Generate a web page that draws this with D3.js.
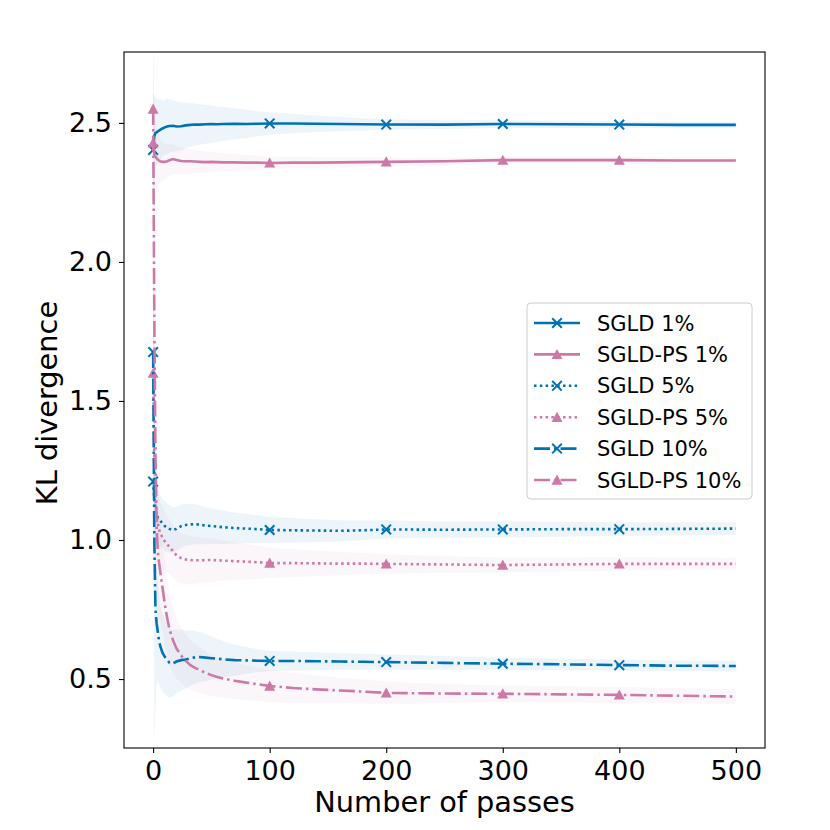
<!DOCTYPE html>
<html>
<head>
<meta charset="utf-8">
<script src="https://cdn.jsdelivr.net/npm/d3@7"></script>
<style>
  body { margin: 0; background: #fff; }
  svg { font-family: "DejaVu Sans", sans-serif; }
</style>
</head>
<body>
<svg width="830" height="830"></svg>
<script>
// number of passes at which each series was sampled
const passes = [0, 1, 2, 3, 4, 5, 6, 8, 10, 12, 14, 17, 20, 24, 28, 32, 36, 40, 45, 50, 55, 60, 70, 80, 90, 100,
  120, 140, 160, 180, 200, 250, 300, 350, 400, 450, 500];

const sgld1 = [2.403, 2.452, 2.464, 2.466, 2.47, 2.472, 2.475, 2.48, 2.484, 2.487, 2.489, 2.49, 2.487, 2.488, 2.491,
  2.493, 2.494, 2.494, 2.495, 2.496, 2.495, 2.496, 2.497, 2.496, 2.497, 2.498, 2.498, 2.497, 2.496, 2.495, 2.494,
  2.494, 2.496, 2.495, 2.494, 2.493, 2.493];
const sgld1Std = [0.2, 0.15, 0.13, 0.12, 0.12, 0.11, 0.11, 0.1, 0.1, 0.1, 0.097, 0.093, 0.09, 0.086, 0.082, 0.079,
  0.076, 0.073, 0.07, 0.067, 0.064, 0.061, 0.056, 0.051, 0.045, 0.04, 0.035, 0.03, 0.026, 0.022, 0.019, 0.016, 0.014,
  0.013, 0.012, 0.011, 0.011];

const sgldps1 = [2.428, 2.385, 2.378, 2.372, 2.368, 2.365, 2.362, 2.36, 2.36, 2.362, 2.366, 2.37, 2.367, 2.363,
  2.362, 2.362, 2.361, 2.36, 2.359, 2.36, 2.359, 2.358, 2.358, 2.357, 2.357, 2.356, 2.357, 2.357, 2.358, 2.359, 2.36,
  2.362, 2.366, 2.366, 2.366, 2.365, 2.365];
const sgldps1Std = [0.3, 0.2, 0.15, 0.12, 0.1, 0.09, 0.08, 0.07, 0.065, 0.06, 0.057, 0.054, 0.051, 0.048, 0.046,
  0.044, 0.042, 0.04, 0.038, 0.036, 0.034, 0.032, 0.03, 0.028, 0.025, 0.023, 0.021, 0.02, 0.019, 0.018, 0.016, 0.014,
  0.013, 0.013, 0.012, 0.011, 0.011];

const sgld5 = [1.21, 1.15, 1.11, 1.09, 1.08, 1.075, 1.07, 1.06, 1.05, 1.045, 1.04, 1.036, 1.04, 1.05, 1.054, 1.056,
  1.057, 1.055, 1.052, 1.05, 1.048, 1.046, 1.043, 1.041, 1.039, 1.036, 1.035, 1.034, 1.033, 1.035, 1.038, 1.037,
  1.038, 1.039, 1.039, 1.04, 1.041];
const sgld5Std = [0.25, 0.15, 0.12, 0.11, 0.1, 0.1, 0.095, 0.09, 0.09, 0.088, 0.085, 0.082, 0.08, 0.078, 0.076,
  0.074, 0.072, 0.07, 0.067, 0.064, 0.062, 0.06, 0.056, 0.053, 0.05, 0.047, 0.044, 0.041, 0.038, 0.035, 0.033, 0.03,
  0.029, 0.027, 0.025, 0.024, 0.023];

const sgldps5 = [1.6, 1.3, 1.15, 1.09, 1.06, 1.04, 1.025, 1.01, 0.995, 0.985, 0.975, 0.96, 0.945, 0.935, 0.93, 0.928,
  0.927, 0.927, 0.928, 0.928, 0.927, 0.926, 0.924, 0.922, 0.92, 0.917, 0.917, 0.916, 0.915, 0.915, 0.914, 0.912, 0.91,
  0.912, 0.914, 0.914, 0.914];
const sgldps5Std = [0.4, 0.25, 0.18, 0.15, 0.13, 0.12, 0.115, 0.11, 0.105, 0.1, 0.098, 0.095, 0.092, 0.09, 0.088,
  0.086, 0.084, 0.082, 0.08, 0.078, 0.075, 0.072, 0.068, 0.064, 0.059, 0.054, 0.05, 0.046, 0.042, 0.038, 0.035, 0.03,
  0.027, 0.025, 0.024, 0.023, 0.022];

const sgld10 = [1.676, 1.0, 0.75, 0.7, 0.67, 0.64, 0.62, 0.595, 0.58, 0.57, 0.558, 0.556, 0.563, 0.568, 0.57, 0.575,
  0.578, 0.579, 0.577, 0.575, 0.573, 0.571, 0.568, 0.567, 0.566, 0.565, 0.565, 0.564, 0.563, 0.562, 0.561, 0.558,
  0.555, 0.553, 0.55, 0.548, 0.547];
const sgld10Std = [0.5, 0.75, 0.35, 0.22, 0.18, 0.16, 0.15, 0.14, 0.135, 0.13, 0.125, 0.12, 0.115, 0.11, 0.105, 0.1,
  0.095, 0.09, 0.085, 0.078, 0.072, 0.066, 0.056, 0.048, 0.041, 0.036, 0.034, 0.032, 0.03, 0.029, 0.028, 0.025, 0.022,
  0.021, 0.02, 0.019, 0.019];

const sgldps10 = [2.55, 1.8, 1.3, 1.05, 0.96, 0.92, 0.89, 0.83, 0.77, 0.72, 0.68, 0.64, 0.61, 0.585, 0.565, 0.55,
  0.54, 0.532, 0.522, 0.514, 0.507, 0.502, 0.494, 0.487, 0.481, 0.475, 0.468, 0.463, 0.459, 0.455, 0.45, 0.448, 0.447,
  0.445, 0.443, 0.44, 0.437];
const sgldps10Std = [1.0, 0.6, 0.4, 0.3, 0.25, 0.2, 0.18, 0.16, 0.15, 0.14, 0.13, 0.12, 0.11, 0.1, 0.095, 0.09,
  0.085, 0.082, 0.078, 0.075, 0.072, 0.069, 0.066, 0.063, 0.06, 0.058, 0.054, 0.05, 0.046, 0.043, 0.04, 0.034, 0.03,
  0.029, 0.028, 0.027, 0.027];

const seriesNames = ["SGLD 1%", "SGLD-PS 1%", "SGLD 5%", "SGLD-PS 5%", "SGLD 10%", "SGLD-PS 10%"];
const markerPasses = [0, 100, 200, 300, 400];
const xTicks = [0, 100, 200, 300, 400, 500];
const yTicks = [0.5, 1.0, 1.5, 2.0, 2.5];

document.addEventListener("DOMContentLoaded", function () {
  const svg = d3.select("svg");
  const left = 124, right = 765, top = 52, bottom = 748;

  const blue = "#0072B2";
  const pink = "#CC79A7";
  const dotted = "2.5,3.3";
  const dashdot = "16,4,2.5,4";

  const series = [
    { name: seriesNames[0], mean: sgld1, std: sgld1Std, color: blue, dash: null, marker: "x" },
    { name: seriesNames[1], mean: sgldps1, std: sgldps1Std, color: pink, dash: null, marker: "tri" },
    { name: seriesNames[2], mean: sgld5, std: sgld5Std, color: blue, dash: dotted, marker: "x" },
    { name: seriesNames[3], mean: sgldps5, std: sgldps5Std, color: pink, dash: dotted, marker: "tri" },
    { name: seriesNames[4], mean: sgld10, std: sgld10Std, color: blue, dash: dashdot, marker: "x" },
    { name: seriesNames[5], mean: sgldps10, std: sgldps10Std, color: pink, dash: dashdot, marker: "tri" }
  ];

  const x = d3.scaleLinear().domain([-25, 525]).range([left, right]);
  const y = d3.scaleLinear().domain([0.252, 2.755]).range([bottom, top]);

  svg.append("defs").append("clipPath").attr("id", "plot")
    .append("rect").attr("x", left).attr("y", top)
    .attr("width", right - left).attr("height", bottom - top);

  const plot = svg.append("g").attr("clip-path", "url(#plot)");

  // shaded bands first
  const area = d3.area()
    .x(d => x(d.p))
    .y0(d => y(d.m - d.s))
    .y1(d => y(d.m + d.s));

  series.forEach(s => {
    const pts = passes.map((p, i) => ({ p: p, m: s.mean[i], s: s.std[i] }));
    plot.append("path")
      .attr("d", area(pts))
      .attr("fill", s.color)
      .attr("fill-opacity", 0.07);
  });

  const line = d3.line().x(d => x(d.p)).y(d => y(d.m));

  const xPath = r => `M${-r},${-r}L${r},${r}M${-r},${r}L${r},${-r}`;
  const triPath = r => `M0,${-r}L${r},${r * 0.85}L${-r},${r * 0.85}Z`;

  function drawMarker(g, type, color, cx, cy) {
    if (type === "x") {
      g.append("path").attr("d", xPath(4.8))
        .attr("transform", `translate(${cx},${cy})`)
        .attr("stroke", color).attr("stroke-width", 2).attr("fill", "none");
    } else {
      g.append("path").attr("d", triPath(5.5))
        .attr("transform", `translate(${cx},${cy})`)
        .attr("fill", color);
    }
  }

  series.forEach(s => {
    const pts = passes.map((p, i) => ({ p: p, m: s.mean[i] }));
    plot.append("path")
      .attr("d", line(pts))
      .attr("fill", "none")
      .attr("stroke", s.color)
      .attr("stroke-width", 2.6)
      .attr("stroke-dasharray", s.dash);
    markerPasses.forEach(mp => {
      const i = passes.indexOf(mp);
      drawMarker(plot, s.marker, s.color, x(mp), y(s.mean[i]));
    });
  });

  // axes
  const xAxis = svg.append("g")
    .attr("transform", `translate(0,${bottom})`)
    .call(d3.axisBottom(x).tickValues(xTicks).tickSize(5).tickPadding(8).tickFormat(d3.format("d")));
  const yAxis = svg.append("g")
    .attr("transform", `translate(${left},0)`)
    .call(d3.axisLeft(y).tickValues(yTicks).tickSize(5).tickPadding(7).tickFormat(d3.format(".1f")));

  [xAxis, yAxis].forEach(a => {
    a.select(".domain").remove();
    a.selectAll(".tick line").attr("stroke", "#000").attr("stroke-width", 1.1);
    a.selectAll(".tick text").attr("fill", "#000")
      .style("font-family", "DejaVu Sans").style("font-size", "27px");
  });

  svg.append("rect")
    .attr("x", left).attr("y", top)
    .attr("width", right - left).attr("height", bottom - top)
    .attr("fill", "none").attr("stroke", "#000").attr("stroke-width", 1.1);

  svg.append("text")
    .attr("x", (left + right) / 2).attr("y", 812)
    .attr("text-anchor", "middle")
    .style("font-size", "28.8px")
    .text("Number of passes");

  svg.append("text")
    .attr("transform", `translate(57,${(top + bottom) / 2 + 3}) rotate(-90)`)
    .attr("text-anchor", "middle")
    .style("font-size", "28.8px")
    .text("KL divergence");

  // legend
  const legend = svg.append("g");
  legend.append("rect")
    .attr("x", 527).attr("y", 303).attr("width", 225).attr("height", 196).attr("rx", 4)
    .attr("fill", "#fff").attr("fill-opacity", 0.8)
    .attr("stroke", "#ccc").attr("stroke-width", 1);

  series.forEach((s, i) => {
    const ly = 323 + i * 31.4;
    legend.append("line")
      .attr("x1", 534).attr("x2", 580).attr("y1", ly).attr("y2", ly)
      .attr("stroke", s.color).attr("stroke-width", 2.6)
      .attr("stroke-dasharray", s.dash);
    drawMarker(legend, s.marker, s.color, 557, ly);
    legend.append("text")
      .attr("x", 597).attr("y", ly).attr("dy", "0.36em")
      .style("font-size", "21px")
      .text(s.name);
  });
});
</script>
</body>
</html>
